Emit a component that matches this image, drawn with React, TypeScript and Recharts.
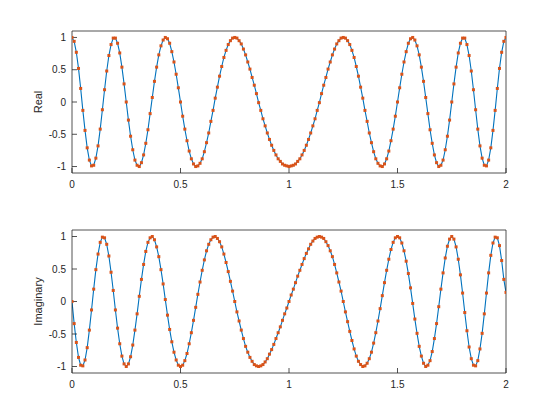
import React from 'react';
import { ComposedChart, Line, Scatter, XAxis, YAxis } from 'recharts';

// time samples (s)
const TIME = [
  0, 0.01, 0.02, 0.03, 0.04, 0.05, 0.06, 0.07, 0.08, 0.09,
  0.1, 0.11, 0.12, 0.13, 0.14, 0.15, 0.16, 0.17, 0.18, 0.19,
  0.2, 0.21, 0.22, 0.23, 0.24, 0.25, 0.26, 0.27, 0.28, 0.29,
  0.3, 0.31, 0.32, 0.33, 0.34, 0.35, 0.36, 0.37, 0.38, 0.39,
  0.4, 0.41, 0.42, 0.43, 0.44, 0.45, 0.46, 0.47, 0.48, 0.49,
  0.5, 0.51, 0.52, 0.53, 0.54, 0.55, 0.56, 0.57, 0.58, 0.59,
  0.6, 0.61, 0.62, 0.63, 0.64, 0.65, 0.66, 0.67, 0.68, 0.69,
  0.7, 0.71, 0.72, 0.73, 0.74, 0.75, 0.76, 0.77, 0.78, 0.79,
  0.8, 0.81, 0.82, 0.83, 0.84, 0.85, 0.86, 0.87, 0.88, 0.89,
  0.9, 0.91, 0.92, 0.93, 0.94, 0.95, 0.96, 0.97, 0.98, 0.99,
  1, 1.01, 1.02, 1.03, 1.04, 1.05, 1.06, 1.07, 1.08, 1.09,
  1.1, 1.11, 1.12, 1.13, 1.14, 1.15, 1.16, 1.17, 1.18, 1.19,
  1.2, 1.21, 1.22, 1.23, 1.24, 1.25, 1.26, 1.27, 1.28, 1.29,
  1.3, 1.31, 1.32, 1.33, 1.34, 1.35, 1.36, 1.37, 1.38, 1.39,
  1.4, 1.41, 1.42, 1.43, 1.44, 1.45, 1.46, 1.47, 1.48, 1.49,
  1.5, 1.51, 1.52, 1.53, 1.54, 1.55, 1.56, 1.57, 1.58, 1.59,
  1.6, 1.61, 1.62, 1.63, 1.64, 1.65, 1.66, 1.67, 1.68, 1.69,
  1.7, 1.71, 1.72, 1.73, 1.74, 1.75, 1.76, 1.77, 1.78, 1.79,
  1.8, 1.81, 1.82, 1.83, 1.84, 1.85, 1.86, 1.87, 1.88, 1.89,
  1.9, 1.91, 1.92, 1.93, 1.94, 1.95, 1.96, 1.97, 1.98, 1.99,
  2,
];

// real part
const REAL = [
  1, 0.94, 0.77, 0.52, 0.21, -0.13, -0.44, -0.71, -0.9, -0.99,
  -0.98, -0.87, -0.68, -0.42, -0.12, 0.19, 0.48, 0.72, 0.89, 0.99,
  0.99, 0.91, 0.76, 0.54, 0.28, 0, -0.28, -0.53, -0.74, -0.9,
  -0.98, -1, -0.94, -0.82, -0.64, -0.43, -0.18, 0.07, 0.32, 0.54,
  0.73, 0.87, 0.96, 1, 0.98, 0.91, 0.78, 0.62, 0.43, 0.22,
  0, -0.22, -0.42, -0.6, -0.76, -0.88, -0.96, -1, -0.99, -0.95,
  -0.88, -0.77, -0.63, -0.48, -0.3, -0.13, 0.06, 0.23, 0.4, 0.55,
  0.69, 0.8, 0.89, 0.95, 0.99, 1, 0.99, 0.95, 0.9, 0.82,
  0.73, 0.62, 0.51, 0.38, 0.26, 0.13, -0.01, -0.13, -0.26, -0.37,
  -0.48, -0.58, -0.67, -0.75, -0.82, -0.88, -0.92, -0.96, -0.98, -0.99,
  -1, -0.99, -0.98, -0.96, -0.92, -0.88, -0.82, -0.75, -0.67, -0.58,
  -0.48, -0.37, -0.26, -0.13, -0.01, 0.13, 0.26, 0.38, 0.51, 0.62,
  0.73, 0.82, 0.9, 0.95, 0.99, 1, 0.99, 0.95, 0.89, 0.8,
  0.69, 0.55, 0.4, 0.23, 0.06, -0.13, -0.3, -0.48, -0.63, -0.77,
  -0.88, -0.95, -0.99, -1, -0.96, -0.88, -0.76, -0.6, -0.42, -0.22,
  0, 0.22, 0.43, 0.62, 0.78, 0.91, 0.98, 1, 0.96, 0.87,
  0.73, 0.54, 0.32, 0.07, -0.18, -0.43, -0.64, -0.82, -0.94, -1,
  -0.98, -0.9, -0.74, -0.53, -0.28, 0, 0.28, 0.54, 0.76, 0.91,
  0.99, 0.99, 0.89, 0.72, 0.48, 0.19, -0.12, -0.42, -0.68, -0.87,
  -0.98, -0.99, -0.9, -0.71, -0.44, -0.13, 0.21, 0.52, 0.77, 0.94,
  1,
];

// imaginary part
const IMAG = [
  0, -0.34, -0.63, -0.86, -0.98, -0.99, -0.9, -0.71, -0.44, -0.13,
  0.19, 0.49, 0.73, 0.91, 0.99, 0.98, 0.88, 0.7, 0.45, 0.17,
  -0.13, -0.41, -0.65, -0.84, -0.96, -1, -0.96, -0.85, -0.67, -0.44,
  -0.19, 0.08, 0.34, 0.57, 0.77, 0.91, 0.98, 1, 0.95, 0.84,
  0.69, 0.49, 0.27, 0.03, -0.21, -0.43, -0.62, -0.78, -0.9, -0.98,
  -1, -0.98, -0.91, -0.8, -0.65, -0.48, -0.29, -0.09, 0.11, 0.3,
  0.48, 0.64, 0.78, 0.88, 0.95, 0.99, 1, 0.97, 0.92, 0.84,
  0.73, 0.6, 0.46, 0.31, 0.16, 0, -0.16, -0.3, -0.44, -0.57,
  -0.69, -0.78, -0.86, -0.92, -0.97, -0.99, -1, -0.99, -0.97, -0.93,
  -0.88, -0.81, -0.74, -0.66, -0.57, -0.48, -0.39, -0.29, -0.19, -0.1,
  0, 0.1, 0.19, 0.29, 0.39, 0.48, 0.57, 0.66, 0.74, 0.81,
  0.88, 0.93, 0.97, 0.99, 1, 0.99, 0.97, 0.92, 0.86, 0.78,
  0.69, 0.57, 0.44, 0.3, 0.16, 0, -0.16, -0.31, -0.46, -0.6,
  -0.73, -0.84, -0.92, -0.97, -1, -0.99, -0.95, -0.88, -0.78, -0.64,
  -0.48, -0.3, -0.11, 0.09, 0.29, 0.48, 0.65, 0.8, 0.91, 0.98,
  1, 0.98, 0.9, 0.78, 0.62, 0.43, 0.21, -0.03, -0.27, -0.49,
  -0.69, -0.84, -0.95, -1, -0.98, -0.91, -0.77, -0.57, -0.34, -0.08,
  0.19, 0.44, 0.67, 0.85, 0.96, 1, 0.96, 0.84, 0.65, 0.41,
  0.13, -0.17, -0.45, -0.7, -0.88, -0.98, -0.99, -0.91, -0.73, -0.49,
  -0.19, 0.13, 0.44, 0.71, 0.9, 0.99, 0.98, 0.86, 0.63, 0.34,
  0.14,
];

const X_TICKS = [0, 0.5, 1, 1.5, 2];
const Y_TICKS = [-1, -0.5, 0, 0.5, 1];

const ROWS = TIME.map((t, i) => ({ t, re: REAL[i], im: IMAG[i] }));

const AXIS = '#262626';
const FONT = '"Liberation Sans", Arial, Helvetica, sans-serif';
const BLUE = '#0072BD';
const ORANGE = '#D95319';

const fmt = (v: number) => String(v);

const Square = (p: any) => {
  if (p.cx == null || p.cy == null) return <g />;
  return <rect x={p.cx - 1.5} y={p.cy - 1.5} width={3} height={3} fill={ORANGE} />;
};

const AxisLabel = (p: any) => {
  const vb = p.viewBox || { x: 0, y: 0, width: 0, height: 0 };
  const x = vb.x + 10;
  const y = vb.y + vb.height / 2;
  return (
    <text
      x={x}
      y={y}
      transform={`rotate(-90 ${x} ${y})`}
      textAnchor="middle"
      fontSize={11}
      fontFamily={FONT}
      fill={AXIS}
    >
      {p.text}
    </text>
  );
};

function Panel({ dataKey, label, top, plotTop, plotH }: { dataKey: string; label: string; top: number; plotTop: number; plotH: number }) {
  return (
    <div style={{ position: 'absolute', left: 0, top }}>
      <ComposedChart
        width={560}
        height={200}
        data={ROWS}
        margin={{ top: plotTop - 1, right: 53, bottom: 0, left: 32 }}
      >
        <XAxis
          xAxisId="b"
          dataKey="t"
          type="number"
          domain={[0, 2]}
          ticks={X_TICKS}
          tickFormatter={fmt}
          tickSize={-5}
          tickMargin={13}
          height={200 - plotTop - plotH}
          stroke={AXIS}
          strokeWidth={0.8}
          tick={{ fontSize: 10, fill: AXIS, fontFamily: FONT }}
          allowDataOverflow
        />
        <XAxis
          xAxisId="top"
          orientation="top"
          dataKey="t"
          type="number"
          domain={[0, 2]}
          ticks={X_TICKS}
          tickSize={-5}
          tick={false}
          height={1}
          stroke={AXIS}
          strokeWidth={0.8}
          allowDataOverflow
        />
        <YAxis
          yAxisId="l"
          type="number"
          domain={[-1.1, 1.1]}
          ticks={Y_TICKS}
          tickFormatter={fmt}
          tickSize={-5}
          tickMargin={11}
          width={40}
          stroke={AXIS}
          strokeWidth={0.8}
          tick={{ fontSize: 10, fill: AXIS, fontFamily: FONT }}
          allowDataOverflow
          label={<AxisLabel text={label} />}
        />
        <YAxis
          yAxisId="r"
          orientation="right"
          type="number"
          domain={[-1.1, 1.1]}
          ticks={Y_TICKS}
          tickSize={-5}
          tick={false}
          width={1}
          stroke={AXIS}
          strokeWidth={0.8}
          allowDataOverflow
        />
        <Line
          xAxisId="b"
          yAxisId="l"
          dataKey={dataKey}
          type="linear"
          stroke={BLUE}
          strokeWidth={1.1}
          dot={false}
          activeDot={false}
          isAnimationActive={false}
        />
        <Scatter
          xAxisId="b"
          yAxisId="l"
          dataKey={dataKey}
          fill={ORANGE}
          shape={Square}
          isAnimationActive={false}
        />
      </ComposedChart>
    </div>
  );
}

export default function App() {
  return (
    <div style={{ position: 'absolute', left: 0, top: 0, width: 560, height: 420, background: '#fff' }}>
      <Panel dataKey="re" label="Real" top={0} plotTop={31} plotH={142} />
      <Panel dataKey="im" label="Imaginary" top={200} plotTop={30} plotH={143} />
    </div>
  );
}
